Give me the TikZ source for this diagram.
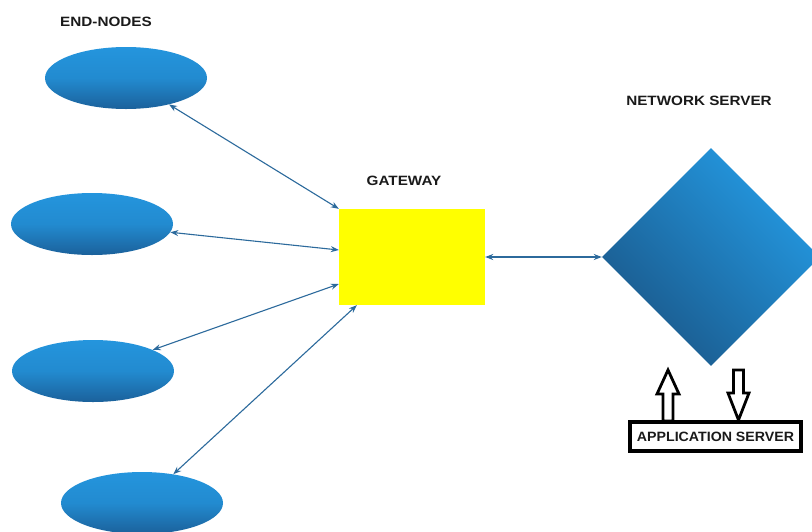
\documentclass[tikz,border=0pt]{standalone}
\usepackage{fontspec}
\setmainfont{Liberation Sans}
\usetikzlibrary{shapes.geometric,arrows.meta}
\definecolor{nodetop}{HTML}{2495DD}
\definecolor{nodebottom}{HTML}{1B619B}
\definecolor{srvlight}{HTML}{249AE3}
\definecolor{srvdark}{HTML}{1A588A}
\definecolor{linkblue}{HTML}{2C6A9C}
\definecolor{gwyellow}{HTML}{FFFF00}
\definecolor{inktext}{HTML}{1A1A1A}
\begin{document}
\begin{tikzpicture}[x=1pt,y=-1pt,
  endnode/.style={ellipse, draw=none, inner sep=0pt, minimum width=162pt,
    minimum height=62pt, top color=nodetop, bottom color=nodebottom,
    middle color=nodetop!80!nodebottom},
  gatebox/.style={rectangle, draw=none, fill=gwyellow, inner sep=0pt,
    minimum width=146pt, minimum height=96pt},
  srvdiamond/.style={diamond, draw=none, inner sep=0pt, minimum width=218pt,
    minimum height=218pt, top color=srvlight, bottom color=srvdark,
    shading angle=-45},
  appbox/.style={rectangle, draw=black, line width=4pt, fill=white,
    inner sep=0pt, minimum width=171pt, minimum height=29pt},
  caption/.style={inner sep=0pt, text=inktext,
    font=\fontsize{13.5}{16}\selectfont\bfseries, xscale=1.13},
  link/.style={draw=linkblue, line width=1.1pt,
    {Stealth[length=8pt,width=6pt]}-{Stealth[length=8pt,width=6pt]}},
  hollow/.style={draw=black, fill=white, line width=2.8pt, line join=miter}]

\clip (0,0) rectangle (812,531);
\fill[white] (0,0) rectangle (812,531);

% end devices
\node[endnode] (e1) at (126,78) {};
\node[endnode] (e2) at (92,224) {};
\node[endnode] (e3) at (93,371) {};
\node[endnode] (e4) at (142,503) {};

% gateway and network server
\node[gatebox] (gw) at (412,257) {};
\node[srvdiamond] (ns) at (711,257) {};

% labels
\node[caption] (lblnodes) at (106,22) {END-NODES};
\node[caption] (lblgw) at (404,181) {GATEWAY};
\node[caption] (lblns) at (699,101) {NETWORK SERVER};

% radio links
\draw[link] (e1) -- (gw.north west);
\draw[link] (e2) -- ([yshift=7pt]gw.west);
\draw[link] (e3) -- ([yshift=-27pt]gw.west);
\draw[link] (e4) -- ([xshift=18pt]gw.south west);
\draw[link] (gw.east) -- (ns.west);

% block arrows between network server and application server
\coordinate (upfoot) at (668,421);
\coordinate (downtop) at (738.5,370);
\draw[hollow] (upfoot) ++(-5,0) -- ++(0,-27) -- ++(-6,0) -- ++(11,-24)
  -- ++(11,24) -- ++(-6,0) -- ++(0,27) -- cycle;
\draw[hollow] (downtop) ++(-5,0) -- ++(0,23) -- ++(-5.5,0) -- ++(10.5,27)
  -- ++(10.5,-27) -- ++(-5.5,0) -- ++(0,-23) -- cycle;

% application server
\node[appbox] (app) at (715.5,436.5) {};
\node[caption, xscale=0.93] (lblapp) at (app.center) {APPLICATION SERVER};
\end{tikzpicture}
\end{document}
